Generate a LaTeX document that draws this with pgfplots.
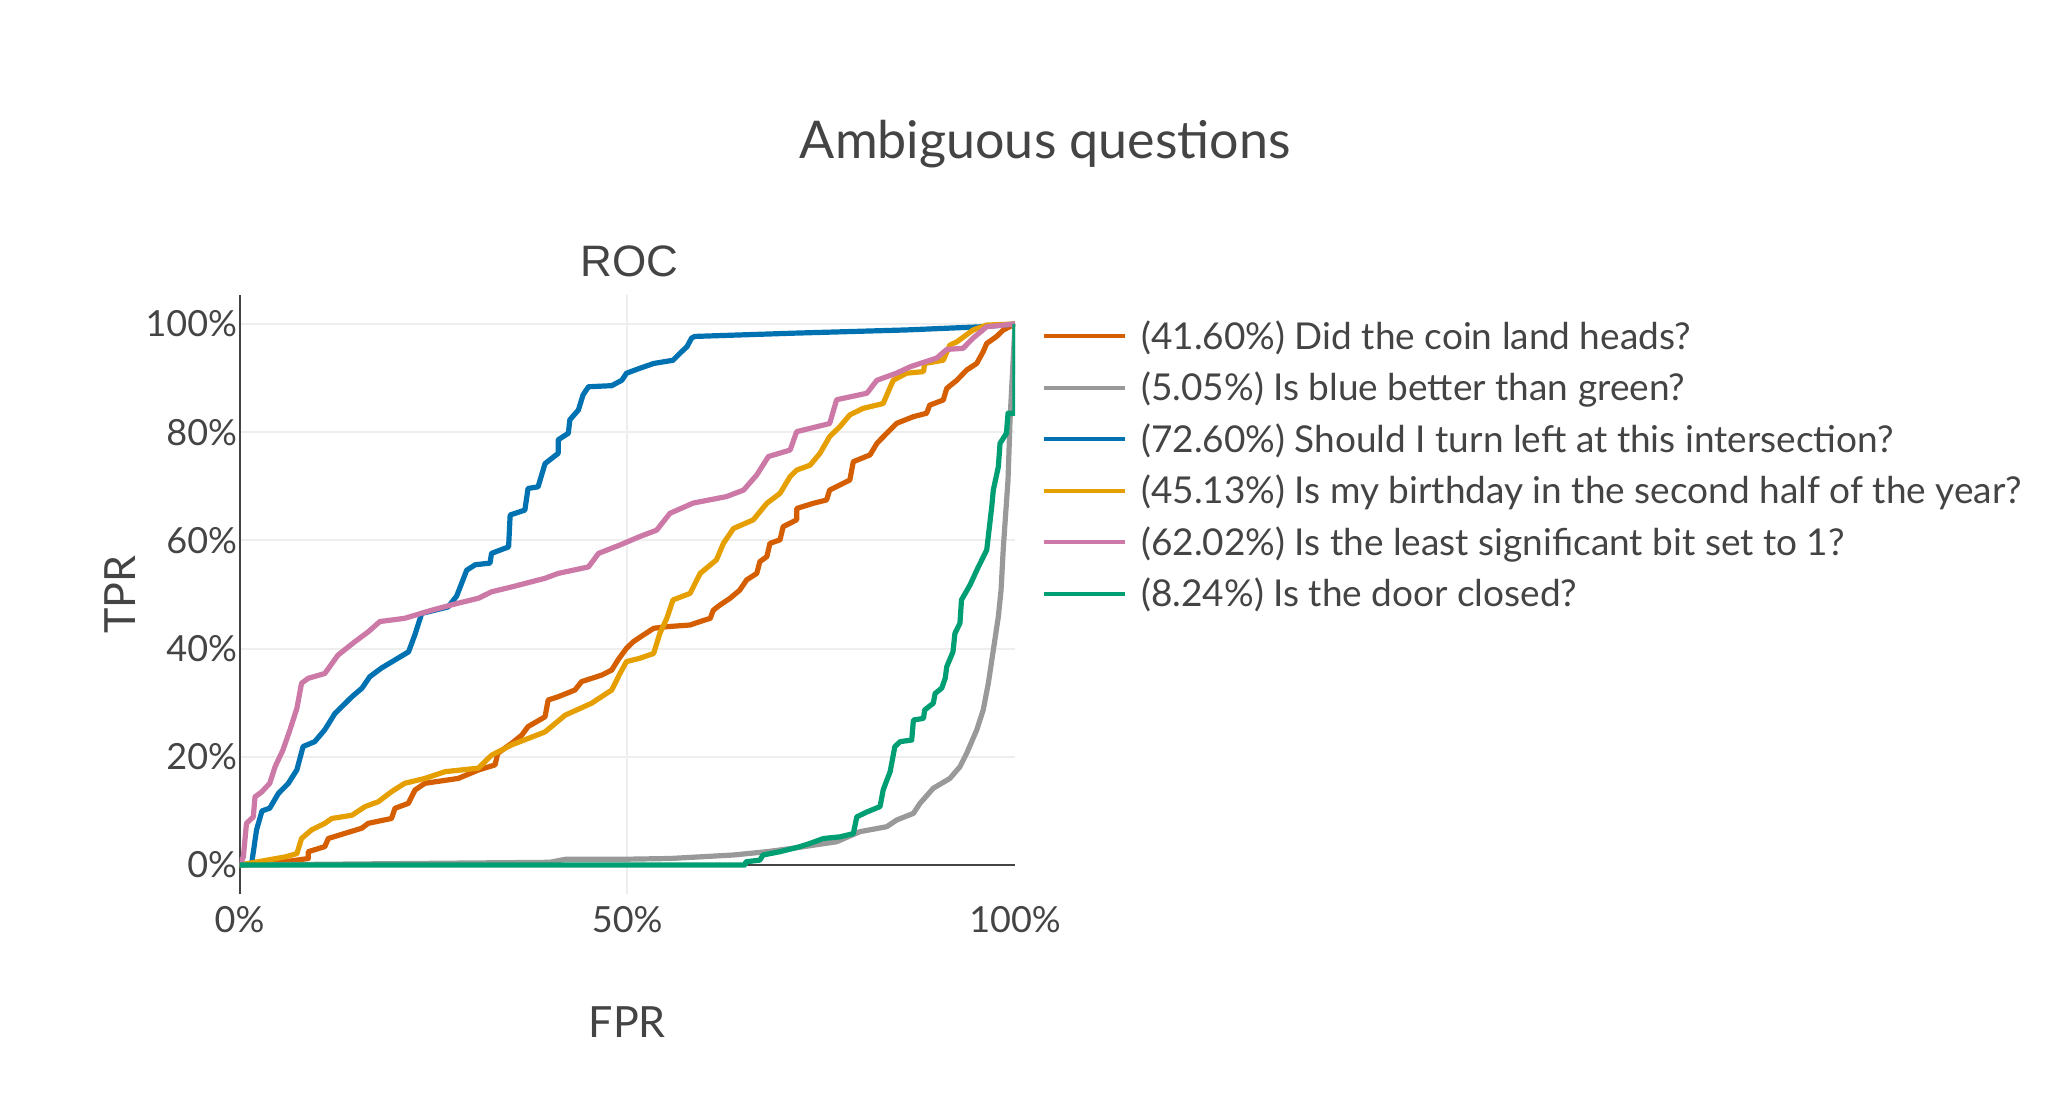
\documentclass[border=0pt]{standalone}
\usepackage{fontspec}
\setmainfont{Lato}
\newfontfamily\arialfont{Liberation Sans}
\usepackage{pgfplots}
\pgfplotsset{compat=1.18}
\definecolor{txt}{HTML}{444444}
\definecolor{gridc}{HTML}{EEEEEE}
\definecolor{cred}{HTML}{D55E00}
\definecolor{cgray}{HTML}{999999}
\definecolor{cblue}{HTML}{0072B2}
\definecolor{corange}{HTML}{E69F00}
\definecolor{cpink}{HTML}{CC79A7}
\definecolor{cgreen}{HTML}{009E73}
\newcommand\tickfont{\fontsize{18}{18}\selectfont}
\newcommand\legfont{\fontsize{18.5}{18.5}\selectfont}
\newcommand\labfont{\fontsize{21.5}{21.5}\selectfont}
\begin{document}
\begin{tikzpicture}
\useasboundingbox (0,0) rectangle (1024pt,546pt);
\fill[white] (0,0) rectangle (1024pt,546pt);
\begin{axis}[
  at={(119.75pt,99pt)}, anchor=south west,
  scale only axis, width=387.75pt, height=299.5pt,
  xmin=0, xmax=1, ymin=-0.0536, ymax=1.0536,
  axis lines*=left,
  x axis line style={draw=none},
  y axis line style={draw=txt, line width=1pt},
  major tick length=0pt,
  xtick={0,0.5,1}, xticklabels={0\%,50\%,100\%},
  ytick={0,0.2,0.4,0.6,0.8,1}, yticklabels={0\%,20\%,40\%,60\%,80\%,100\%},
  ymajorgrids, grid style={color=gridc, line width=1pt},
  extra x ticks={0.5}, extra x tick labels={},
  extra x tick style={xmajorgrids=true, grid style={color=gridc, line width=1pt}},
  extra y ticks={0}, extra y tick labels={},
  extra y tick style={ymajorgrids=true, grid style={color=txt, line width=1pt}},
  xticklabel style={font=\tickfont, text=txt, inner sep=0pt, anchor=north, yshift=-6.2pt},
  yticklabel style={font=\tickfont, text=txt, inner sep=0pt, anchor=east, xshift=-1pt},
  every axis plot/.append style={line width=2.6pt, line join=round},
  legend style={at={(axis description cs:1,1)}, anchor=north west, xshift=13pt, yshift=-10.5pt,
    draw=none, fill=none, font=\legfont, text=txt, row sep=5.9pt, inner sep=0pt,
    column sep=5pt},
  legend cell align=left,
  legend image code/.code={\draw[#1, line width=2.2pt] (0pt,0pt) -- (40.8pt,0pt);},
]
\addplot[cred] coordinates {(0,0) (0.059,0.006) (0.0887,0.012) (0.0887,0.0246) (0.110,0.034) (0.1145,0.049) (0.136,0.0585) (0.1576,0.068) (0.166,0.077) (0.196,0.086) (0.2005,0.1048) (0.2177,0.114) (0.2263,0.1386) (0.239,0.151) (0.282,0.160) (0.308,0.1756) (0.3295,0.185) (0.333,0.2065) (0.351,0.225) (0.364,0.240) (0.372,0.2557) (0.394,0.274) (0.398,0.305) (0.411,0.311) (0.4326,0.3235) (0.4412,0.339) (0.467,0.351) (0.480,0.3604) (0.488,0.379) (0.499,0.4005) (0.508,0.413) (0.5207,0.425) (0.534,0.4375) (0.551,0.4405) (0.581,0.4436) (0.594,0.450) (0.607,0.456) (0.611,0.471) (0.6196,0.4806) (0.6325,0.493) (0.645,0.508) (0.654,0.527) (0.667,0.539) (0.671,0.5607) (0.680,0.570) (0.684,0.5946) (0.697,0.601) (0.701,0.6253) (0.7185,0.638) (0.7185,0.659) (0.740,0.6686) (0.757,0.6747) (0.761,0.693) (0.787,0.7116) (0.7915,0.7455) (0.813,0.758) (0.822,0.7795) (0.8346,0.798) (0.8475,0.8165) (0.869,0.8287) (0.886,0.835) (0.890,0.850) (0.9075,0.8595) (0.912,0.881) (0.925,0.896) (0.9377,0.915) (0.9506,0.927) (0.959,0.949) (0.9635,0.964) (0.976,0.9766) (0.985,0.989) (1,1)};
\addlegendentry{(41.60\%) Did the coin land heads?}
\addplot[cgray] coordinates {(0,0) (0.40,0.005) (0.42,0.0105) (0.4906,0.0105) (0.555,0.012) (0.637,0.0185) (0.680,0.0246) (0.714,0.031) (0.770,0.043) (0.800,0.0616) (0.8346,0.0708) (0.8475,0.0832) (0.869,0.0955) (0.8775,0.114) (0.8946,0.1418) (0.916,0.160) (0.929,0.1817) (0.9377,0.2065) (0.9506,0.2495) (0.959,0.2865) (0.9656,0.336) (0.972,0.397) (0.9785,0.459) (0.982,0.508) (0.985,0.588) (0.991,0.712) (0.9936,0.823) (1,1)};
\addlegendentry{(5.05\%) Is blue better than green?}
\addplot[cblue] coordinates {(0,0) (0.0157,0.003) (0.022,0.065) (0.029,0.10) (0.039,0.105) (0.050,0.132) (0.063,0.151) (0.074,0.176) (0.082,0.219) (0.097,0.228) (0.110,0.25) (0.123,0.280) (0.145,0.311) (0.158,0.327) (0.168,0.348) (0.183,0.364) (0.2005,0.379) (0.218,0.394) (0.226,0.425) (0.235,0.465) (0.269,0.477) (0.280,0.497) (0.293,0.545) (0.304,0.555) (0.323,0.558) (0.325,0.576) (0.347,0.588) (0.349,0.647) (0.368,0.656) (0.372,0.696) (0.385,0.699) (0.394,0.742) (0.411,0.761) (0.411,0.786) (0.424,0.798) (0.426,0.823) (0.437,0.841) (0.443,0.869) (0.450,0.884) (0.480,0.886) (0.493,0.896) (0.499,0.909) (0.516,0.918) (0.534,0.927) (0.559,0.933) (0.568,0.946) (0.577,0.958) (0.583,0.974) (0.587,0.977) (0.714,0.983) (0.860,0.989) (0.959,0.995) (1,1)};
\addlegendentry{(72.60\%) Should I turn left at this intersection?}
\addplot[corange] coordinates {(0,0) (0.024,0.006) (0.059,0.015) (0.074,0.021) (0.080,0.049) (0.093,0.065) (0.110,0.077) (0.119,0.086) (0.145,0.092) (0.162,0.108) (0.179,0.117) (0.196,0.1355) (0.213,0.151) (0.239,0.160) (0.265,0.1725) (0.308,0.179) (0.325,0.203) (0.351,0.222) (0.394,0.246) (0.420,0.277) (0.454,0.299) (0.480,0.3235) (0.4906,0.354) (0.499,0.376) (0.516,0.382) (0.534,0.391) (0.542,0.428) (0.551,0.456) (0.559,0.490) (0.581,0.502) (0.594,0.539) (0.615,0.564) (0.624,0.5946) (0.637,0.622) (0.6625,0.638) (0.680,0.6686) (0.697,0.687) (0.710,0.718) (0.7185,0.730) (0.7357,0.739) (0.7485,0.761) (0.761,0.792) (0.774,0.810) (0.787,0.832) (0.804,0.844) (0.830,0.853) (0.8366,0.875) (0.843,0.896) (0.860,0.909) (0.882,0.912) (0.8835,0.927) (0.9075,0.933) (0.916,0.961) (0.925,0.967) (0.946,0.989) (0.9635,0.998) (1,1)};
\addlegendentry{(45.13\%) Is my birthday in the second half of the year?}
\addplot[cpink] coordinates {(0,0) (0.005,0.015) (0.009,0.077) (0.0178,0.089) (0.020,0.126) (0.0286,0.135) (0.039,0.151) (0.046,0.182) (0.056,0.2125) (0.065,0.2495) (0.074,0.2896) (0.080,0.336) (0.0885,0.345) (0.110,0.354) (0.127,0.388) (0.149,0.413) (0.166,0.431) (0.181,0.450) (0.213,0.456) (0.248,0.471) (0.282,0.484) (0.308,0.493) (0.325,0.505) (0.351,0.514) (0.394,0.530) (0.411,0.539) (0.450,0.551) (0.463,0.576) (0.4906,0.5915) (0.516,0.607) (0.538,0.619) (0.555,0.650) (0.585,0.669) (0.628,0.681) (0.650,0.693) (0.667,0.721) (0.682,0.755) (0.710,0.767) (0.7185,0.801) (0.761,0.816) (0.770,0.860) (0.809,0.872) (0.822,0.896) (0.847,0.909) (0.865,0.921) (0.899,0.937) (0.912,0.953) (0.933,0.955) (0.946,0.974) (0.9635,0.995) (1,1)};
\addlegendentry{(62.02\%) Is the least significant bit set to 1?}
\addplot[cgreen] coordinates {(0,0) (0.652,0) (0.653,0.006) (0.671,0.009) (0.675,0.0185) (0.697,0.0246) (0.7228,0.034) (0.7357,0.040) (0.753,0.049) (0.774,0.052) (0.7915,0.058) (0.796,0.089) (0.809,0.098) (0.826,0.108) (0.830,0.1386) (0.834,0.154) (0.839,0.1725) (0.845,0.2187) (0.852,0.228) (0.8668,0.231) (0.869,0.268) (0.882,0.271) (0.8835,0.2865) (0.8946,0.299) (0.897,0.317) (0.9055,0.327) (0.910,0.345) (0.912,0.3666) (0.920,0.394) (0.9225,0.428) (0.929,0.447) (0.931,0.490) (0.942,0.5176) (0.9527,0.551) (0.9635,0.582) (0.970,0.662) (0.972,0.693) (0.9785,0.736) (0.9807,0.7795) (0.989,0.798) (0.991,0.835) (1,0.835) (1,0.921) (1,1)};
\addlegendentry{(8.24\%) Is the door closed?}
\end{axis}
\node[font=\fontsize{26}{26}\selectfont, text=txt, anchor=base] at (522.7pt,466.8pt) {Ambiguous questions};
\node[font=\arialfont\fontsize{22}{22}\selectfont, text=txt, anchor=base] at (314.8pt,407.7pt) {ROC};
\node[font=\labfont, text=txt, anchor=base] at (313.6pt,27.35pt) {FPR};
\node[font=\labfont, text=txt, anchor=base, rotate=90] at (67.5pt,248.75pt) {TPR};
\end{tikzpicture}
\end{document}
